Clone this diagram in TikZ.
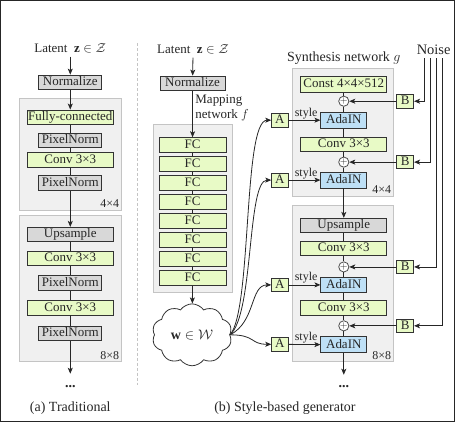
\documentclass[tikz,border=0pt]{standalone}
\usepackage{fix-cm}
\usepackage{amsmath}
\usepackage{fontspec}
\setmainfont{Liberation Serif}
\usetikzlibrary{shapes.symbols,arrows.meta}

\definecolor{boxgreen}{RGB}{232,250,198}
\definecolor{boxgray}{RGB}{216,216,216}
\definecolor{boxblue}{RGB}{190,224,246}
\definecolor{stagefill}{RGB}{240,240,240}
\definecolor{stageline}{RGB}{196,196,196}

\begin{document}
\begin{tikzpicture}[x=1pt, y=-1pt, >={Stealth[length=6pt,width=5pt,inset=1.5pt]},
    every node/.style={font=\fontsize{13}{15}\selectfont, text=black!85},
    every path/.style={line width=0.8pt, draw=black!85},
    layer/.style={draw=black!80, inner sep=0pt, minimum height=14.5pt, text height=9pt, text depth=2.5pt},
    wide/.style={layer, minimum width=86pt},
    narrow/.style={layer, minimum width=63pt},
    greenbox/.style={fill=boxgreen},
    graybox/.style={fill=boxgray},
    bluebox/.style={layer, fill=boxblue, minimum width=46pt, minimum height=16pt},
    fcbox/.style={layer, fill=boxgreen, minimum width=67pt, minimum height=15pt},
    tinybox/.style={layer, fill=boxgreen, minimum width=16.5pt, minimum height=14pt},
    stage/.style={draw=stageline, fill=stagefill, inner sep=0pt},
    addnode/.style={circle, draw=black!70, fill=white, inner sep=0pt, minimum size=10pt, font=\fontsize{10}{10}\selectfont},
    reslabel/.style={anchor=south east, inner sep=2.5pt, font=\fontsize{12}{12}\selectfont},
    caption/.style={font=\fontsize{14}{16}\selectfont}]

    \useasboundingbox (0,0) rectangle (455,422);

    % (a) traditional
    \node[stage, minimum width=102pt, minimum height=112pt] (gA1) at (70.5,154) {};
    \node[stage, minimum width=102pt, minimum height=147pt] (gA2) at (70.5,288.5) {};
    \node[reslabel] at (gA1.south east) {4×4};
    \node[reslabel] at (gA2.south east) {8×8};

    \node (latA) at (70,48) {Latent\ \ $\mathbf{z}\in\mathcal{Z}$};
    \node[narrow, graybox] (normA) at (70,82) {Normalize};
    \node[wide, greenbox] (fcA) at (70,117) {Fully-connected};
    \node[narrow, graybox] (pnA1) at (70,140) {PixelNorm};
    \node[wide, greenbox] (convA1) at (70,160) {Conv 3×3};
    \node[narrow, graybox] (pnA2) at (70,183) {PixelNorm};
    \node[wide, graybox] (upA) at (70,234.5) {Upsample};
    \node[wide, greenbox] (convA2) at (70,258.5) {Conv 3×3};
    \node[narrow, graybox] (pnA3) at (70,283) {PixelNorm};
    \node[wide, greenbox] (convA3) at (70,308) {Conv 3×3};
    \node[narrow, graybox] (pnA4) at (70,333.5) {PixelNorm};
    \coordinate (endA) at (70,374);
    \node[caption] (dotsA) at (70,387) {\textbf{...}};
    \node[caption] (capA) at (70,408) {(a) Traditional};

    \draw[->] (latA) -- (normA);
    \draw[->] (normA) -- (fcA);
    \draw (fcA) -- (pnA1);
    \draw (pnA1) -- (convA1);
    \draw (convA1) -- (pnA2);
    \draw[->] (pnA2) -- (upA);
    \draw (upA) -- (convA2);
    \draw (convA2) -- (pnA3);
    \draw (pnA3) -- (convA3);
    \draw (convA3) -- (pnA4);
    \draw[->] (pnA4) -- (endA);

    \draw[draw=stageline, dash pattern=on 3pt off 2pt] (137,43) -- (137,385);

    % (b) mapping network
    \node[stage, minimum width=79pt, minimum height=169pt] (gM) at (192.5,208.5) {};
    \node (latB) at (193,49) {Latent\ \ $\mathbf{z}\in\mathcal{Z}$};
    \node[layer, graybox, minimum width=65pt] (normB) at (192.5,83) {Normalize};
    \node[anchor=west, align=left, inner sep=0pt] (mapL) at (195,107.5) {Mapping\\network $f$};
    \node[fcbox] (fc1) at (192.5,145) {FC};
    \node[fcbox] (fc2) at (192.5,164) {FC};
    \node[fcbox] (fc3) at (192.5,183) {FC};
    \node[fcbox] (fc4) at (192.5,202) {FC};
    \node[fcbox] (fc5) at (192.5,221) {FC};
    \node[fcbox] (fc6) at (192.5,240) {FC};
    \node[fcbox] (fc7) at (192.5,259) {FC};
    \node[fcbox] (fc8) at (192.5,278) {FC};
    \node[cloud, draw=black!80, fill=white, cloud puffs=10, cloud puff arc=110, cloud ignores aspect,
          minimum width=80pt, minimum height=62pt, inner sep=0pt, font=\fontsize{14}{16}\selectfont] (w) at (192,335) {$\mathbf{w}\in\mathcal{W}$};

    \draw[->] (latB) -- (normB);
    \draw[->] (normB) -- (fc1);
    \draw (fc1) -- (fc2);
    \draw (fc2) -- (fc3);
    \draw (fc3) -- (fc4);
    \draw (fc4) -- (fc5);
    \draw (fc5) -- (fc6);
    \draw (fc6) -- (fc7);
    \draw (fc7) -- (fc8);
    \draw[->] (fc8) -- (w);

    % (b) synthesis network
    \node[stage, minimum width=101pt, minimum height=128pt] (gS1) at (343.5,132) {};
    \node[stage, minimum width=101pt, minimum height=157pt] (gS2) at (343.5,283.5) {};
    \node[reslabel] at (gS1.south east) {4×4};
    \node[reslabel] at (gS2.south east) {8×8};
    \node[font=\fontsize{14}{16}\selectfont] (synL) at (344,58) {Synthesis network $g$};
    \node[font=\fontsize{14.5}{16}\selectfont] (noiseL) at (434,49) {Noise};

    \node[wide, greenbox, minimum height=16pt] (constS) at (344,84) {Const 4×4×512};
    \node[addnode] (add1) at (344,101) {$+$};
    \node[bluebox] (adaS1) at (344,120) {AdaIN};
    \node[wide, greenbox] (convS1) at (344,144.5) {Conv 3×3};
    \node[addnode] (add2) at (344,162) {$+$};
    \node[bluebox] (adaS2) at (344,180) {AdaIN};
    \node[wide, graybox] (upS) at (344,225.5) {Upsample};
    \node[wide, greenbox] (convS2) at (344,248.5) {Conv 3×3};
    \node[addnode] (add3) at (344,267) {$+$};
    \node[bluebox] (adaS3) at (344,285) {AdaIN};
    \node[wide, greenbox] (convS3) at (344,308) {Conv 3×3};
    \node[addnode] (add4) at (344,326) {$+$};
    \node[bluebox] (adaS4) at (344,345) {AdaIN};
    \coordinate (endS) at (344,375);
    \node[caption] (dotsS) at (344,387) {\textbf{...}};
    \node[caption] (capB) at (285,408) {(b) Style-based generator};

    \node[tinybox] (A1) at (280,120) {A};
    \node[tinybox] (A2) at (280,180) {A};
    \node[tinybox] (A3) at (280,285) {A};
    \node[tinybox] (A4) at (280,344.5) {A};
    \node[tinybox, minimum width=17pt, minimum height=13.5pt] (B1) at (405.5,101) {B};
    \node[tinybox, minimum width=17pt, minimum height=13.5pt] (B2) at (405.5,162) {B};
    \node[tinybox, minimum width=17pt, minimum height=13.5pt] (B3) at (405.5,267) {B};
    \node[tinybox, minimum width=17pt, minimum height=13.5pt] (B4) at (405.5,326) {B};
    \coordinate (n1) at (425,58);
    \coordinate (n2) at (431,58);
    \coordinate (n3) at (437,58);
    \coordinate (n4) at (443,58);

    \draw (constS) -- (add1);
    \draw (add1) -- (adaS1);
    \draw (adaS1) -- (convS1);
    \draw (convS1) -- (add2);
    \draw (add2) -- (adaS2);
    \draw[->] (adaS2) -- (upS);
    \draw (upS) -- (convS2);
    \draw (convS2) -- (add3);
    \draw (add3) -- (adaS3);
    \draw (adaS3) -- (convS3);
    \draw (convS3) -- (add4);
    \draw (add4) -- (adaS4);
    \draw[->] (adaS4) -- (endS);

    % styles from w
    \draw[->] (w.east) .. controls (252,310) and (243,120) .. (A1);
    \draw[->] (w.east) .. controls (254,314) and (247,180) .. (A2);
    \draw[->] (w.east) .. controls (256,322) and (250,285) .. (A3);
    \draw[->] (w.east) .. controls (256,335) and (250,344.5) .. (A4);
    \draw[->] (A1) -- node[above, pos=0.55, inner sep=1pt, font=\fontsize{12}{12}\selectfont] {style} (adaS1);
    \draw[->] (A2) -- node[above, pos=0.55, inner sep=1pt, font=\fontsize{12}{12}\selectfont] {style} (adaS2);
    \draw[->] (A3) -- node[above, pos=0.55, inner sep=1pt, font=\fontsize{12}{12}\selectfont] {style} (adaS3);
    \draw[->] (A4) -- node[above, pos=0.55, inner sep=1pt, font=\fontsize{12}{12}\selectfont] {style} (adaS4);

    % noise inputs
    \draw[->] (n1) |- (B1);
    \draw[->] (n2) |- (B2);
    \draw[->] (n3) |- (B3);
    \draw[->] (n4) |- (B4);
    \draw[->] (B1) -- (add1);
    \draw[->] (B2) -- (add2);
    \draw[->] (B3) -- (add3);
    \draw[->] (B4) -- (add4);
\end{tikzpicture}
\end{document}
